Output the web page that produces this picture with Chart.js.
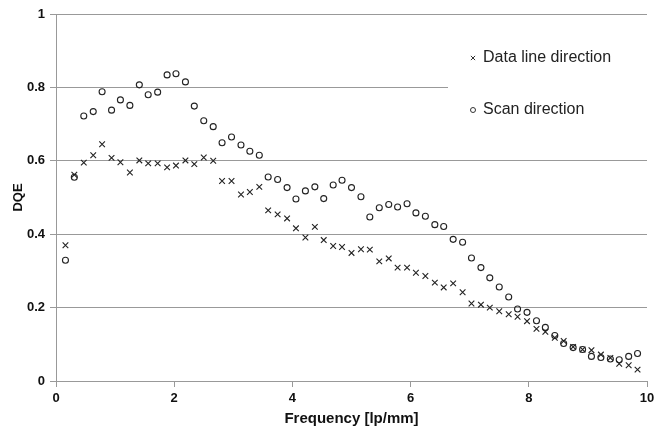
<!DOCTYPE html>
<html>
<head>
<meta charset="UTF-8">
<title>DQE</title>
<script src="https://cdn.jsdelivr.net/npm/chart.js"></script>
<style>
  body { margin: 0; background: #fff; }
  #wrap { width: 667px; height: 431px; }
</style>
</head>
<body>
<div id="wrap"><canvas id="dqeChart" width="667" height="431"></canvas></div>
<script>
// frequencies (lp/mm)
const freq = [0.16, 0.31, 0.47, 0.63, 0.78, 0.94, 1.09, 1.25, 1.41, 1.56, 1.72, 1.88, 2.03, 2.19, 2.34, 2.50,
  2.66, 2.81, 2.97, 3.13, 3.28, 3.44, 3.59, 3.75, 3.91, 4.06, 4.22, 4.38, 4.53, 4.69, 4.84, 5.00,
  5.16, 5.31, 5.47, 5.63, 5.78, 5.94, 6.09, 6.25, 6.41, 6.56, 6.72, 6.88, 7.03, 7.19, 7.34, 7.50,
  7.66, 7.81, 7.97, 8.13, 8.28, 8.44, 8.59, 8.75, 8.91, 9.06, 9.22, 9.38, 9.53, 9.69, 9.84];

const dataLine = [0.370, 0.562, 0.595, 0.615, 0.645, 0.608, 0.596, 0.568, 0.601, 0.593, 0.593, 0.582, 0.587, 0.601, 0.591, 0.609,
  0.600, 0.545, 0.545, 0.508, 0.515, 0.529, 0.465, 0.454, 0.443, 0.416, 0.391, 0.420, 0.384, 0.368, 0.365, 0.349,
  0.359, 0.358, 0.326, 0.334, 0.309, 0.309, 0.295, 0.286, 0.268, 0.255, 0.266, 0.242, 0.211, 0.208, 0.200, 0.190,
  0.182, 0.175, 0.163, 0.142, 0.134, 0.118, 0.109, 0.093, 0.086, 0.084, 0.072, 0.063, 0.047, 0.043, 0.031];

const scanDir = [0.329, 0.555, 0.722, 0.734, 0.788, 0.738, 0.766, 0.751, 0.807, 0.780, 0.787, 0.834, 0.837, 0.815, 0.749, 0.709,
  0.693, 0.649, 0.665, 0.643, 0.626, 0.615, 0.556, 0.549, 0.527, 0.496, 0.518, 0.529, 0.497, 0.534, 0.547, 0.527,
  0.502, 0.447, 0.472, 0.481, 0.474, 0.483, 0.458, 0.449, 0.426, 0.421, 0.386, 0.378, 0.335, 0.309, 0.281, 0.256,
  0.229, 0.196, 0.187, 0.164, 0.146, 0.124, 0.102, 0.091, 0.086, 0.067, 0.064, 0.060, 0.058, 0.067, 0.075];

const seriesNames = ['Data line direction', 'Scan direction'];

const toPoints = vals => vals.map((v, i) => ({ x: freq[i], y: v }));

// legend box drawn inside the plot, over the 0.8 gridline
const insideLegend = {
    id: 'insideLegend',
    afterDraw(chart) {
        const ctx = chart.ctx;
        ctx.save();
        ctx.fillStyle = '#fff';
        ctx.fillRect(448, 40, 205, 95);
        ctx.font = '16px "Liberation Sans", Arial, sans-serif';
        ctx.textBaseline = 'middle';
        const rows = [58, 110];
        const styles = ['crossRot', 'circle'];
        const radii = [3, 2.5];
        rows.forEach((y, i) => {
            ctx.strokeStyle = '#333';
            ctx.fillStyle = '#fff';
            ctx.lineWidth = 1;
            Chart.helpers.drawPoint(ctx, { pointStyle: styles[i], radius: radii[i], borderWidth: 1 }, 473, y);
            ctx.fillStyle = '#222';
            ctx.fillText(seriesNames[i], 483, y);
        });
        ctx.restore();
    }
};

new Chart(document.getElementById('dqeChart'), {
    type: 'scatter',
    data: {
        datasets: [
            {
                label: seriesNames[0],
                data: toPoints(dataLine),
                pointStyle: 'crossRot',
                pointRadius: 4,
                borderColor: '#222',
                borderWidth: 1.1,
                backgroundColor: 'transparent'
            },
            {
                label: seriesNames[1],
                data: toPoints(scanDir),
                pointStyle: 'circle',
                pointRadius: 3,
                borderColor: '#222',
                borderWidth: 1.1,
                backgroundColor: 'transparent'
            }
        ]
    },
    options: {
        responsive: false,
        animation: false,
        layout: { padding: { top: 14, right: 20, left: 0, bottom: 0 } },
        plugins: {
            legend: { display: false },
            tooltip: { enabled: false }
        },
        scales: {
            x: {
                type: 'linear',
                min: 0, max: 10,
                ticks: { stepSize: 2, color: '#111', padding: 4, font: { family: 'Liberation Sans', size: 13, weight: 'bold' } },
                grid: { drawOnChartArea: false, drawTicks: true, tickLength: 6, color: '#999' },
                border: { color: '#999' },
                title: { display: true, text: 'Frequency [lp/mm]', color: '#111', padding: { top: 0, bottom: 3 },
                         font: { family: 'Liberation Sans', size: 15, weight: 'bold' } },
                afterFit(axis) { axis.height = 50; }
            },
            y: {
                min: 0, max: 1,
                ticks: { stepSize: 0.2, color: '#111', padding: 5, font: { family: 'Liberation Sans', size: 13, weight: 'bold' },
                         callback: v => String(Math.round(v * 10) / 10) },
                grid: { color: '#999', drawTicks: true, tickLength: 6 },
                border: { color: '#999' },
                title: { display: true, text: 'DQE', color: '#111', padding: { top: 11, bottom: 0 },
                         font: { family: 'Liberation Sans', size: 13, weight: 'bold' } },
                afterFit(axis) { axis.width = 56; }
            }
        }
    },
    plugins: [insideLegend]
});
</script>
</body>
</html>
